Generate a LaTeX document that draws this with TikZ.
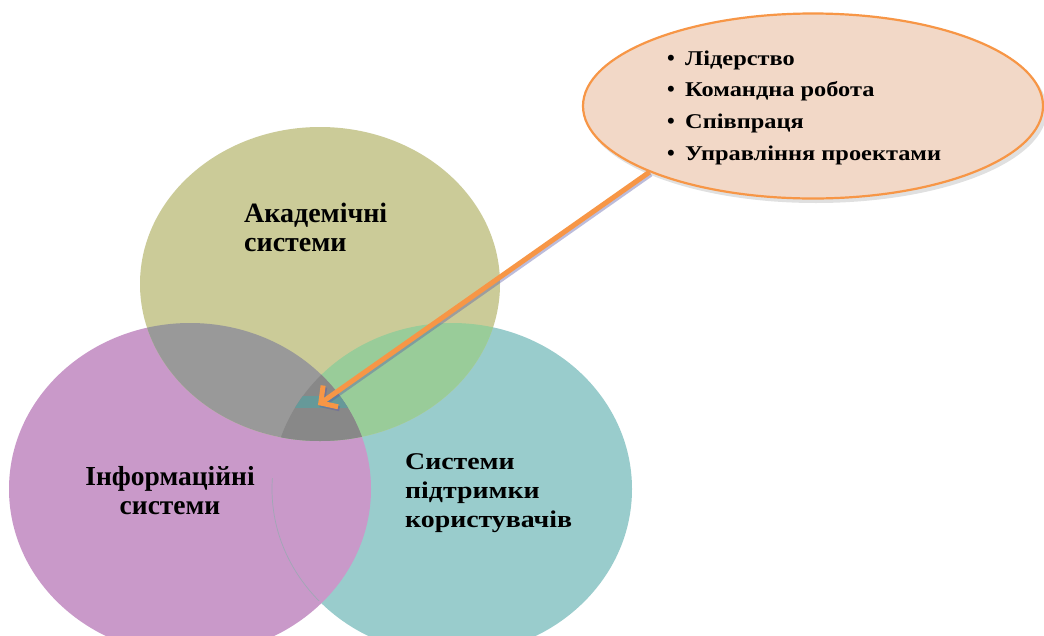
\documentclass[tikz,border=0pt]{standalone}
\usepackage{fontspec}
\setmainfont{Liberation Serif}
\usetikzlibrary{shapes.geometric,arrows.meta}

\definecolor{acad}{HTML}{CBCB98}
\definecolor{info}{HTML}{C999C9}
\definecolor{supp}{HTML}{99CCCC}
\definecolor{acadinfo}{HTML}{999999}
\definecolor{acadsupp}{HTML}{99CC99}
\definecolor{core}{HTML}{888888}
\definecolor{band}{HTML}{669999}
\definecolor{accent}{HTML}{F79646}
\definecolor{bubblefill}{HTML}{F2D8C7}

% the three overlapping sets
\def\acadpath{(320,284) ellipse [x radius=180, y radius=157]}
\def\infopath{(190,489) ellipse [x radius=181, y radius=166]}
\def\supppath{(452,489) ellipse [x radius=180, y radius=166]}

\newcommand{\widetext}[1]{\scalebox{1.16}[1]{#1}}

\tikzset{
  acadtext/.style={font=\bfseries\fontsize{28}{30}\selectfont, inner sep=0pt, anchor=base west},
  infotext/.style={font=\bfseries\fontsize{27.5}{30}\selectfont, inner sep=0pt, anchor=base},
  supptext/.style={font=\bfseries\fontsize{24}{30}\selectfont, inner sep=0pt, anchor=base west},
  skilltext/.style={font=\bfseries\fontsize{21}{30}\selectfont, inner sep=0pt, anchor=base west},
  skillbullet/.style={font=\bfseries\fontsize{22}{30}\selectfont, inner sep=0pt, anchor=base},
  pointer/.style={accent, line width=5pt, -{Straight Barb[length=12pt,width=26pt,line width=5pt]}},
}

\begin{document}
\begin{tikzpicture}[x=1pt,y=-1pt]
\useasboundingbox (0,0) rectangle (1044,635);
\fill[white] (0,0) rectangle (1044,635);

% base fills
\fill[supp] \supppath;
\fill[info] \infopath;
% faint outline of the support set seen through the info set
\begin{scope}
  \clip (240,478) rectangle (340,600);
  \clip \infopath;
  \draw[supp!60!gray, line width=0.7pt, opacity=0.7] \supppath;
\end{scope}
\fill[acad] \acadpath;
% pairwise overlaps
\begin{scope}
  \clip \acadpath;
  \fill[acadsupp] \supppath;
  \fill[acadinfo] \infopath;
\end{scope}
% common core
\begin{scope}
  \clip \acadpath;
  \clip \infopath;
  \fill[core] \supppath;
  \clip \supppath;
  \fill[band] (280,396) rectangle (360,408);
\end{scope}

% labels of the sets
\node[acadtext] (acad1) at (244,222) {Академічні};
\node[acadtext] (acad2) at (244,251) {системи};
\node[infotext] (info1) at (170,485) {Інформаційні};
\node[infotext] (info2) at (170,514) {системи};
\node[supptext] (supp1) at (405,469) {\widetext{Системи}};
\node[supptext] (supp2) at (405,498) {\widetext{підтримки}};
\node[supptext] (supp3) at (405,527) {\widetext{користувачів}};

% callout bubble with the skills
\fill[black, opacity=0.12] (816,110) ellipse [x radius=231, y radius=93];
\node[ellipse, draw=accent, line width=2.2pt, fill=bubblefill,
      minimum width=460pt, minimum height=185pt, inner sep=0pt] (bubble) at (813,106) {};
\foreach \txt [count=\i] in {Лідерство, Командна робота, Співпраця, Управління проектами} {
  \node[skillbullet] (dot\i) at (671,{65+31.7*(\i-1)}) {\textbullet};
  \node[skilltext] (skill\i) at (685,{65+31.7*(\i-1)}) {\widetext{\txt}};
}

% pointer from the bubble to the common core
\coordinate (hub) at (318,405);
\draw[pointer, draw=gray!70!blue, opacity=0.4, transform canvas={shift={(1.5pt,-2pt)}}] (bubble.202) -- (hub);
\draw[pointer] (bubble.202) -- (hub);
\end{tikzpicture}
\end{document}
